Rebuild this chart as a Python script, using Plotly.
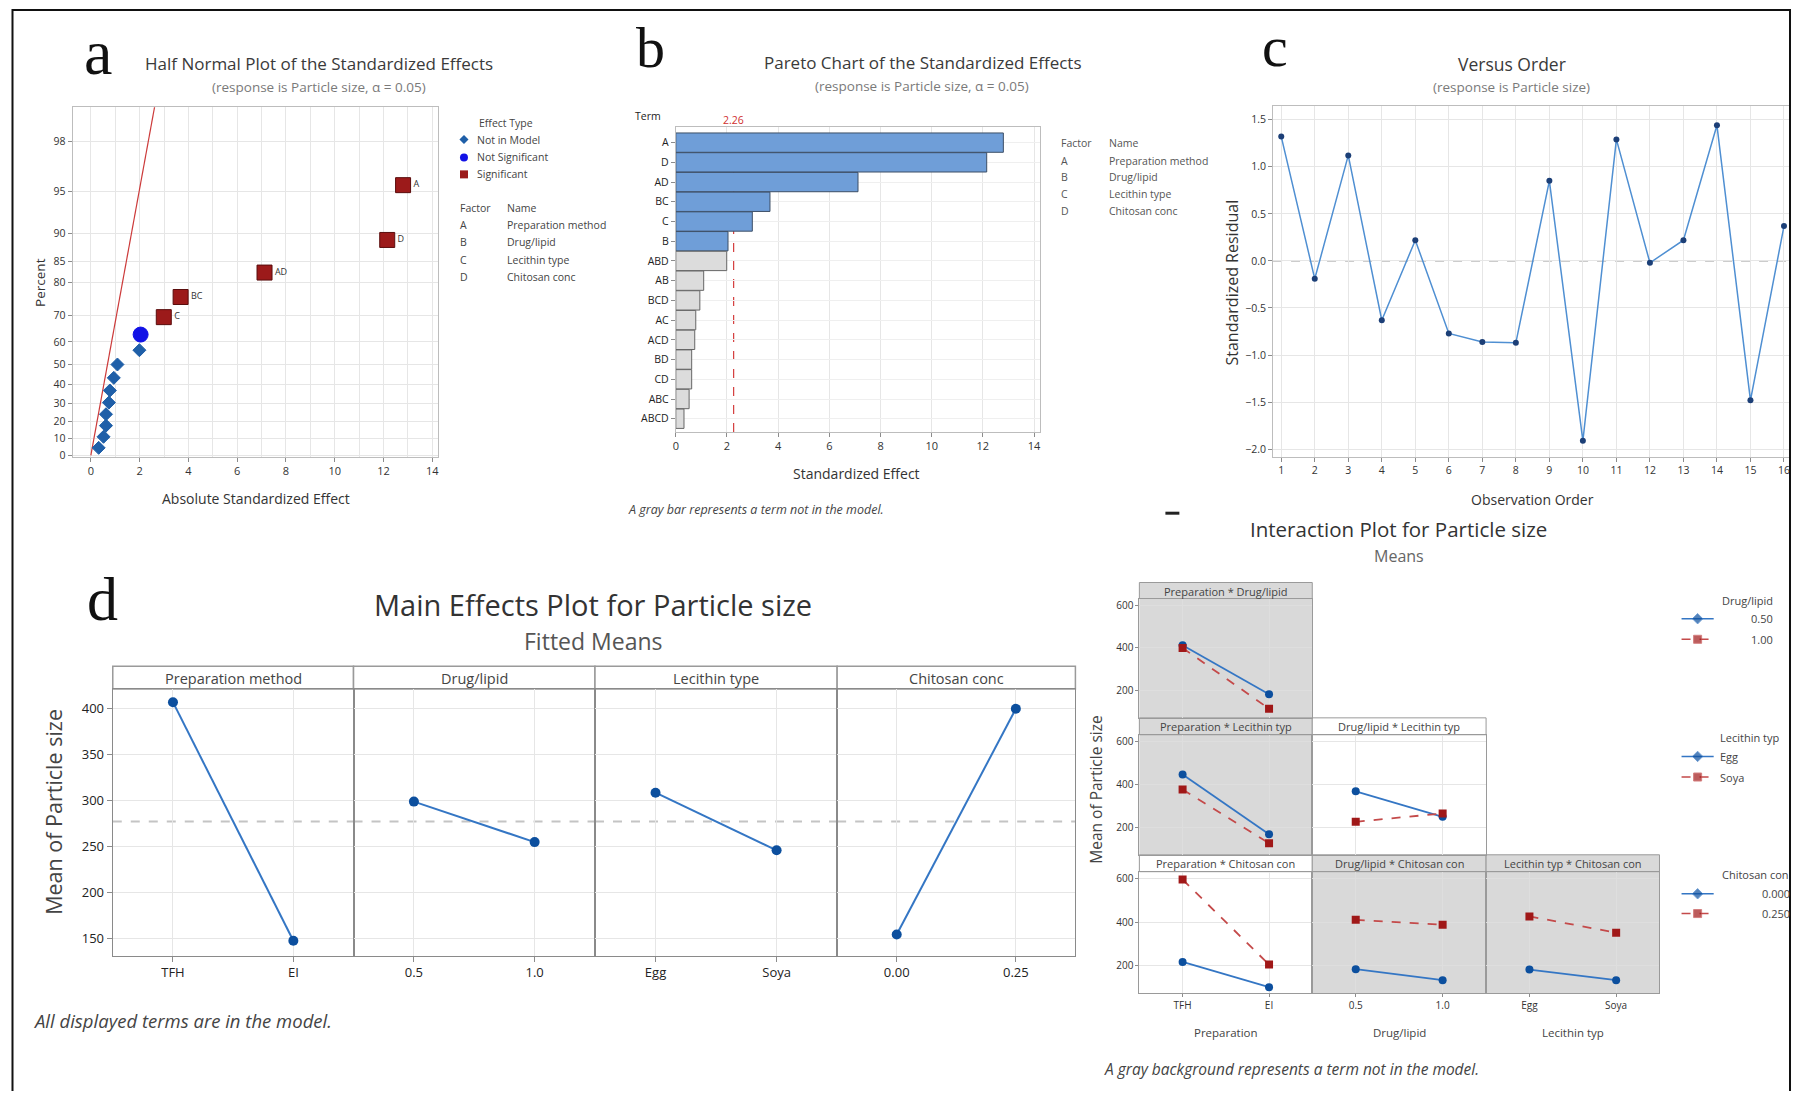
import plotly.graph_objects as go
from statistics import NormalDist

# page is 1801 x 1099; the html body has an 8px margin, so the figure is sized to fit inside it
PAGE_W, PAGE_H = 1801, 1099
OX, OY = 8, 8
W, H = PAGE_W - 2 * OX, PAGE_H - 2 * OY
FONT = "Open Sans"
SERIF = "Liberation Serif"

# ---------------- data ----------------
terms = ["A", "D", "AD", "BC", "C", "B", "ABD", "AB", "BCD", "AC", "ACD", "BD", "CD", "ABC", "ABCD"]
std_effects = [12.80, 12.15, 7.12, 3.68, 2.99, 2.04, 1.99, 1.09, 0.94, 0.78, 0.74, 0.62, 0.62, 0.52, 0.32]
in_model = [True, True, True, True, True, True, False, False, False, False, False, False, False, False, False]
half_normal_pct = [95.5, 89.0, 82.5, 76.0, 69.5, 63.0, 56.5, 50.0, 43.5, 37.0, 30.5, 24.0, 17.5, 11.0, 4.5]
effect_type = ["Significant"] * 5 + ["Not Significant"] + ["Not in Model"] * 9
critical_effect = 2.26
ref_line_effect = [0.0, 3.0]
ref_line_pct = [0.0, 99.70]
pct_ticks = [0, 10, 20, 30, 40, 50, 60, 70, 80, 85, 90, 95, 98]

factor_codes = ["A", "B", "C", "D"]
factor_names = ["Preparation method", "Drug/lipid", "Lecithin type", "Chitosan conc"]

obs_order = list(range(1, 17))
std_resid = [1.32, -0.19, 1.12, -0.63, 0.22, -0.77, -0.86, -0.87, 0.85, -1.91, 1.29, -0.02, 0.22, 1.44, -1.48, 0.37]

me_factors = ["Preparation method", "Drug/lipid", "Lecithin type", "Chitosan conc"]
me_levels = [["TFH", "EI"], ["0.5", "1.0"], ["Egg", "Soya"], ["0.00", "0.25"]]
me_means = [[406.5, 147.1], [298.4, 254.4], [308.1, 245.5], [154.0, 399.3]]
grand_mean = 276.7
me_yticks = [150, 200, 250, 300, 350, 400]

ia_titles = ["Preparation * Drug/lipid", "Preparation * Lecithin typ", "Drug/lipid * Lecithin typ",
             "Preparation * Chitosan con", "Drug/lipid * Chitosan con", "Lecithin typ * Chitosan con"]
ia_row = [0, 1, 1, 2, 2, 2]
ia_col = [0, 0, 1, 0, 1, 2]
ia_gray = [True, True, False, False, True, True]
ia_xlevels = [["TFH", "EI"], ["TFH", "EI"], ["0.5", "1.0"], ["TFH", "EI"], ["0.5", "1.0"], ["Egg", "Soya"]]
ia_low = [[413, 183], [447, 168], [368, 249], [216, 100], [183, 132], [181, 132]]
ia_high = [[400, 115], [377, 126], [226, 265], [596, 204], [410, 388], [426, 351]]
ia_xtitles = ["Preparation", "Drug/lipid", "Lecithin typ"]
ia_yticks = [200, 400, 600]
ia_legend_titles = ["Drug/lipid", "Lecithin typ", "Chitosan con"]
ia_legend_levels = [["0.50", "1.00"], ["Egg", "Soya"], ["0.000", "0.250"]]

# ---------------- styles ----------------
GRID = "#e6e6e6"
FRAME = "#bdbdbd"
BLUE_BAR = "#6f9ed8"
GRAY_BAR = "#dcdcdc"
NIM = "#1f5fa8"
NS = "#1212e6"
SIG = "#9c1a1a"
LINE_BLUE = "#4f8fd2"
MARK_NAVY = "#1c3f77"
ME_LINE = "#3476c4"
ME_MARK = "#0c4f9e"
RED_LINE = "#c44a4a"
RED_MARK = "#a01818"
PANEL_GRAY = "#d9d9d9"


def X(px):
    return (px - OX) / W


def Y(py):
    return 1 - (py - OY) / H


def hn(p):
    return NormalDist().inv_cdf(0.5 + p / 200.0)


fig = go.Figure()
layout = {}
ann = []
shapes = []


def names(n):
    if n == 1:
        return "xaxis", "yaxis", "x", "y"
    return f"xaxis{n}", f"yaxis{n}", f"x{n}", f"y{n}"


def make_axes(n, xpx, ypx, xo, yo, frame=FRAME, lw=1):
    xa, ya, xr, yr = names(n)
    base = dict(showgrid=True, gridcolor=GRID, zeroline=False, showline=True, mirror=True,
                linecolor=frame, linewidth=lw, ticks="outside", ticklen=4, tickcolor="#8c8c8c",
                tickfont=dict(size=11, color="#333", family=FONT), fixedrange=True)
    xd = dict(base)
    xd.update(domain=[X(xpx[0]), X(xpx[1])], anchor=yr)
    xd.update(xo)
    yd = dict(base)
    yd.update(domain=[Y(ypx[1]), Y(ypx[0])], anchor=xr)
    yd.update(yo)
    layout[xa] = xd
    layout[ya] = yd
    return xr, yr


def txt(s, x, y, size=11, color="#333", xa="center", ya="middle", fam=FONT, angle=0):
    ann.append(dict(text=s, x=X(x), y=Y(y), xref="paper", yref="paper", showarrow=False,
                    xanchor=xa, yanchor=ya, textangle=angle,
                    font=dict(size=size, color=color, family=fam)))


def rect(x0, y0, x1, y1, fill=None, line="#999", lw=1, layer="below"):
    shapes.append(dict(type="rect", xref="paper", yref="paper", x0=X(x0), x1=X(x1), y0=Y(y0), y1=Y(y1),
                       fillcolor=fill if fill else "rgba(0,0,0,0)", line=dict(color=line, width=lw),
                       layer=layer))


# ================= Panel a : half normal =================
xr, yr = make_axes(1, (69.7, 436.4), (106.7, 458.3),
                   dict(range=[-0.75, 14.25], tick0=0, dtick=2,
                        minor=dict(dtick=1, showgrid=True, gridcolor=GRID, ticks="")),
                   dict(range=[-0.01, 2.583], tickvals=[hn(p) for p in pct_ticks],
                        ticktext=[str(p) for p in pct_ticks], tickfont=dict(size=10.5, color="#333")))
fig.add_trace(go.Scatter(x=ref_line_effect, y=[hn(p) for p in ref_line_pct], mode="lines",
                         line=dict(color="#cc3a3a", width=1.2), xaxis=xr, yaxis=yr, hoverinfo="skip"))
type_style = {"Not in Model": ("diamond", NIM, 10),
              "Not Significant": ("circle", NS, 15),
              "Significant": ("square", SIG, 15)}
for et in ["Not in Model", "Not Significant", "Significant"]:
    sym, col, sz = type_style[et]
    idx = [i for i, t in enumerate(effect_type) if t == et]
    fig.add_trace(go.Scatter(
        x=[std_effects[i] for i in idx], y=[hn(half_normal_pct[i]) for i in idx],
        mode="markers+text" if et == "Significant" else "markers",
        text=[terms[i] for i in idx] if et == "Significant" else None,
        textposition="middle right", textfont=dict(size=9, color="#333", family=FONT),
        marker=dict(symbol=sym, color=col, size=sz,
                    line=dict(color="#5a0d0d" if et == "Significant" else col, width=1)),
        xaxis=xr, yaxis=yr, hoverinfo="skip"))

txt("a", 95, 52, 64, "#111", fam=SERIF)
txt("Half Normal Plot of the Standardized Effects", 317, 63.3, 17, "#3a3a3a")
txt("(response is Particle size, α = 0.05)", 316.6, 86.5, 13.5, "#7a7a7a")
txt("Absolute Standardized Effect", 253.4, 500, 14, "#333")
txt("Percent", 37.2, 283.3, 13.5, "#333", angle=-90)
txt("Effect Type", 475.4, 122.7, 10.5, "#444", xa="left")
for lab, yy in zip(["Not in Model", "Not Significant", "Significant"], [139.3, 157.3, 174.3]):
    txt(lab, 473.5, yy, 10.5, "#444", xa="left")
txt("Factor", 456.5, 207.7, 10.5, "#444", xa="left")
txt("Name", 503.5, 207.7, 10.5, "#444", xa="left")
for c, nme, yy in zip(factor_codes, factor_names, [225, 242.7, 260, 277.7]):
    txt(c, 456.5, yy, 10.5, "#444", xa="left")
    txt(nme, 503.5, yy, 10.5, "#444", xa="left")

# ================= Panel b : pareto =================
xr2, yr2 = make_axes(2, (674.3, 1039), (126.7, 433.3),
                     dict(range=[0, 14.22], tick0=0, dtick=2, ticklen=4),
                     dict(type="category", categoryorder="array", categoryarray=terms,
                          range=[14.67, -0.79], gridcolor="#efefef",
                          tickfont=dict(size=10.5, color="#222")))
shapes.append(dict(type="line", xref=xr2, yref=yr2 + " domain", x0=critical_effect, x1=critical_effect,
                   y0=0, y1=1.0, line=dict(color="#d43c3c", width=1.2, dash="dash"), layer="below"))
fig.add_trace(go.Bar(x=std_effects, y=terms, orientation="h",
                     marker=dict(color=[BLUE_BAR if m else GRAY_BAR for m in in_model],
                                 line=dict(color=["#3d4f66" if m else "#666" for m in in_model], width=1)),
                     xaxis=xr2, yaxis=yr2, hoverinfo="skip"))
layout["bargap"] = 0.02
txt("b", 649, 47, 58, "#111", fam=SERIF)
txt("Pareto Chart of the Standardized Effects", 922, 62.3, 17, "#3a3a3a")
txt("(response is Particle size, α = 0.05)", 921, 85, 13.5, "#7a7a7a")
txt("Term", 646.7, 116, 10.5, "#222")
txt(f"{critical_effect:.2f}", 732, 119.3, 10.5, "#d03030")
txt("Standardized Effect", 855, 475, 14, "#333")
txt("<i>A gray bar represents a term not in the model.</i>", 624, 511.7, 12.5, "#444", xa="left")
txt("Factor", 1058.5, 142.7, 10.5, "#555", xa="left")
txt("Name", 1106, 142.7, 10.5, "#555", xa="left")
for c, nme, yy in zip(factor_codes, factor_names, [160.7, 177.3, 194, 210.7]):
    txt(c, 1058.5, yy, 10.5, "#555", xa="left")
    txt(nme, 1106, yy, 10.5, "#555", xa="left")

# ================= Panel c : versus order =================
xr3, yr3 = make_axes(3, (1272.9, 1791), (106, 458.3),
                     dict(range=[0.756, 16.18], tick0=1, dtick=1, tickfont=dict(size=10.5, color="#333")),
                     dict(range=[-2.08, 1.64], tick0=0, dtick=0.5, tickformat=".1f",
                          tickfont=dict(size=10.5, color="#333")))
shapes.append(dict(type="line", xref=xr3 + " domain", yref=yr3, x0=0, x1=1, y0=0, y1=0,
                   line=dict(color="#9a9a9a", width=1.2, dash="dash"), layer="below"))
fig.add_trace(go.Scatter(x=obs_order, y=std_resid, mode="lines+markers",
                         line=dict(color=LINE_BLUE, width=1.5),
                         marker=dict(color=MARK_NAVY, size=6),
                         xaxis=xr3, yaxis=yr3, hoverinfo="skip"))
txt("c", 1274.8, 46, 58, "#111", fam=SERIF)
txt("Versus Order", 1512, 63.3, 17.5, "#3a3a3a")
txt("(response is Particle size)", 1512, 86.5, 13.5, "#7a7a7a")
txt("Standardized Residual", 1231.8, 283, 16, "#333", angle=-90)
txt("Observation Order", 1532.6, 501.7, 14, "#333")

# ================= Panel d : main effects =================
me_x = [(110, 351.3), (351.3, 593.3), (593.3, 836), (836, 1074.8)]
for k in range(4):
    n = 4 + k
    first = (k == 0)
    xr_, yr_ = make_axes(n, me_x[k], (691.7, 960),
                         dict(range=[-0.5, 1.5], tickvals=[0, 1], ticktext=me_levels[k], ticklen=5,
                              tickfont=dict(size=13, color="#222")),
                         dict(range=[130.9, 420.9], tickvals=me_yticks, showticklabels=first,
                              ticks="outside" if first else "", ticklen=5,
                              tickfont=dict(size=13, color="#222")),
                         frame="#8a8a8a", lw=1.3)
    shapes.append(dict(type="line", xref=xr_ + " domain", yref=yr_, x0=0, x1=1, y0=grand_mean, y1=grand_mean,
                       line=dict(color="#c4c4c4", width=2, dash="dash"), layer="below"))
    fig.add_trace(go.Scatter(x=[0, 1], y=me_means[k], mode="lines+markers",
                             line=dict(color=ME_LINE, width=2), marker=dict(color=ME_MARK, size=10),
                             xaxis=xr_, yaxis=yr_, hoverinfo="skip"))
    rect(me_x[k][0], 669, me_x[k][1], 691.7, fill="white", line="#9a9a9a", lw=1.5)
    txt(me_factors[k], (me_x[k][0] + me_x[k][1]) / 2, 681, 14.5, "#444")
txt("d", 100, 601, 62, "#111", fam=SERIF)
txt("Main Effects Plot for Particle size", 591, 606.7, 29, "#333")
txt("Fitted Means", 591, 643.3, 23, "#555")
txt("Mean of Particle size", 50.4, 815, 21.5, "#444", angle=-90)
txt("<i>All displayed terms are in the model.</i>", 28, 1025, 18.5, "#444", xa="left")

# ================= Interaction plot =================
ia_cols = [(1138.9, 1312.2), (1312.2, 1486.4), (1486.4, 1660.2)]
ia_rows = [(600.8, 720.8), (737.8, 858.5), (875.5, 997.7)]
ia_strips = [(584.7, 600.8), (720.8, 737.8), (858.5, 875.5)]
for k in range(6):
    n = 8 + k
    r, c = ia_row[k], ia_col[k]
    bottom = (r == 2)
    left = (c == 0)
    xr_, yr_ = make_axes(n, ia_cols[c], ia_rows[r],
                         dict(range=[-0.5, 1.5], tickvals=[0, 1], ticktext=ia_xlevels[k],
                              showticklabels=bottom, ticks="outside" if bottom else "", ticklen=3,
                              tickfont=dict(size=10, color="#333")),
                         dict(range=[72, 632], tickvals=ia_yticks, showticklabels=left,
                              ticks="outside" if left else "", ticklen=3,
                              tickfont=dict(size=10, color="#333")),
                         frame="#9a9a9a", lw=1)
    if ia_gray[k]:
        shapes.append(dict(type="rect", xref=xr_ + " domain", yref=yr_ + " domain", x0=0, x1=1, y0=0, y1=1,
                           fillcolor=PANEL_GRAY, line=dict(width=0), layer="below"))
    layout[names(n)[0]]["gridcolor"] = "#dedede" if ia_gray[k] else GRID
    layout[names(n)[1]]["gridcolor"] = "#dedede" if ia_gray[k] else GRID
    fig.add_trace(go.Scatter(x=[0, 1], y=ia_low[k], mode="lines+markers",
                             line=dict(color=ME_LINE, width=1.8),
                             marker=dict(symbol="circle", color=ME_MARK, size=8),
                             xaxis=xr_, yaxis=yr_, hoverinfo="skip"))
    fig.add_trace(go.Scatter(x=[0, 1], y=ia_high[k], mode="lines+markers",
                             line=dict(color=RED_LINE, width=1.8, dash="dash"),
                             marker=dict(symbol="square", color=RED_MARK, size=8),
                             xaxis=xr_, yaxis=yr_, hoverinfo="skip"))
    sy = ia_strips[r]
    rect(ia_cols[c][0], sy[0], ia_cols[c][1], sy[1], fill=PANEL_GRAY if ia_gray[k] else "white",
         line="#9a9a9a", lw=1)
    txt(ia_titles[k], (ia_cols[c][0] + ia_cols[c][1]) / 2, (sy[0] + sy[1]) / 2 + 0.5, 11, "#444")
for c in range(3):
    txt(ia_xtitles[c], (ia_cols[c][0] + ia_cols[c][1]) / 2, 1037.3, 11.5, "#444")
txt("Interaction Plot for Particle size", 1399, 530.9, 20.5, "#333")
txt("Means", 1399.5, 558.3, 16, "#666")
txt("Mean of Particle size", 1096, 793.5, 15.5, "#444", angle=-90)
txt("<i>A gray background represents a term not in the model.</i>", 1101, 1073.7, 15.5, "#444", xa="left")
shapes.append(dict(type="line", xref="paper", yref="paper", x0=X(1165), x1=X(1179), y0=Y(515), y1=Y(515),
                   line=dict(color="#222", width=3)))

# ---------- overlay axis for legend swatches ----------
layout["xaxis14"] = dict(domain=[0, 1], range=[OX, OX + W], visible=False, fixedrange=True, anchor="y14")
layout["yaxis14"] = dict(domain=[0, 1], range=[OY + H, OY], visible=False, fixedrange=True, anchor="x14")
for et, yy in zip(["Not in Model", "Not Significant", "Significant"], [139.3, 157.3, 174.3]):
    sym, col, sz = type_style[et]
    fig.add_trace(go.Scatter(x=[462], y=[yy], mode="markers",
                             marker=dict(symbol=sym, color=col, size=7 if sym == "diamond" else 8),
                             xaxis="x14", yaxis="y14", hoverinfo="skip"))
leg_y = [(602.3, 621.1, 641.8), (740.8, 759.6, 780.3), (878.1, 897.7, 917.6)]
for g in range(3):
    ty, y1, y2 = leg_y[g]
    for yy, col, mcol, sym, dash in [(y1, ME_LINE, ME_MARK, "diamond", "solid"),
                                     (y2, RED_LINE, RED_MARK, "square", "dash")]:
        fig.add_trace(go.Scatter(x=[1682.3, 1698.4, 1714.5], y=[yy, yy, yy], mode="lines+markers",
                                 line=dict(color=col, width=1.5, dash=dash),
                                 marker=dict(symbol=sym, color=mcol, size=[0, 8, 0]),
                                 xaxis="x14", yaxis="y14", hoverinfo="skip"))
    if g == 0:
        txt(ia_legend_titles[g], 1776, ty, 11, "#444", xa="right")
        txt(ia_legend_levels[g][0], 1776, y1, 11, "#444", xa="right")
        txt(ia_legend_levels[g][1], 1776, y2, 11, "#444", xa="right")
    elif g == 1:
        txt(ia_legend_titles[g], 1719, ty, 11, "#444", xa="left")
        txt(ia_legend_levels[g][0], 1719, y1, 11, "#444", xa="left")
        txt(ia_legend_levels[g][1], 1719, y2, 11, "#444", xa="left")
    else:
        txt(ia_legend_titles[g], 1721, ty, 11, "#444", xa="left")
        txt(ia_legend_levels[g][0], 1761, y1, 11, "#444", xa="left")
        txt(ia_legend_levels[g][1], 1761, y2, 11, "#444", xa="left")

# outer frame
shapes.append(dict(type="rect", xref="paper", yref="paper", x0=X(9.5), x1=X(1791), y0=Y(9), y1=Y(1120),
                   line=dict(color="#111", width=2), fillcolor="rgba(0,0,0,0)", layer="above"))

layout.update(width=W, height=H, margin=dict(l=0, r=0, t=0, b=0), paper_bgcolor="white",
              plot_bgcolor="rgba(0,0,0,0)", showlegend=False, annotations=ann, shapes=shapes,
              font=dict(family=FONT, color="#333"))
fig.update_layout(**layout)
fig.write_html("out.html")
